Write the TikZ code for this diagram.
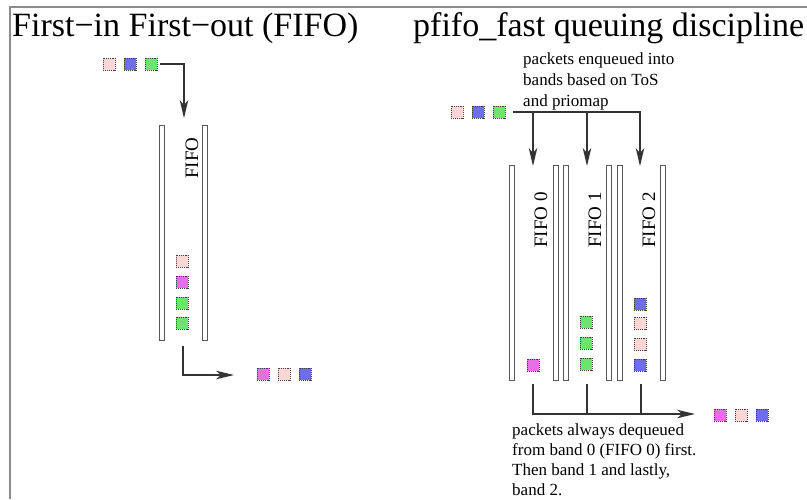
\documentclass[tikz,border=0pt]{standalone}
\usepackage{fontspec}
\setmainfont{Liberation Serif}
\usetikzlibrary{arrows.meta}
\definecolor{pinkp}{RGB}{255,214,214}
\definecolor{bluep}{RGB}{110,110,235}
\definecolor{greenp}{RGB}{110,228,110}
\definecolor{magp}{RGB}{232,110,232}
\definecolor{framec}{RGB}{140,140,140}
\tikzset{
  pkt/.style={draw=black!75, densely dotted, line width=0.9pt, minimum size=12pt, inner sep=0pt},
  wall/.style={draw=black!65, fill=white, line width=0.9pt, minimum width=5pt, inner sep=0pt},
  arr/.style={draw=black!80, line width=1.2pt, -{Stealth[length=18pt,width=8.5pt,inset=5pt]}},
  conn/.style={draw=black!80, line width=1.2pt},
  title/.style={font=\fontsize{34}{40}\selectfont, inner sep=0pt, anchor=base west},
  lbl/.style={font=\fontsize{19}{22}\selectfont, inner sep=0pt, rotate=90},
  note/.style={font=\fontsize{17}{21.3}\selectfont, inner sep=0pt, align=left, anchor=north west},
  notetight/.style={note, font=\fontsize{17}{20.2}\selectfont},
}
\begin{document}
\begin{tikzpicture}[x=1pt,y=-1pt]
\useasboundingbox (0,0) rectangle (807,499);
\fill[white] (0,0) rectangle (807,499);
\draw[framec, line width=1.6pt] (10,499) -- (10,7) -- (807,7);
% titles
\node[title] (t1) at (12,36) {First−in First−out (FIFO)};
\node[title] (t2) at (413,36) {pfifo\_fast queuing discipline};
% ---------- left FIFO ----------
\node[wall, minimum height=215pt] (lw1) at (161.5,232.5) {};
\node[wall, minimum height=215pt] (lw2) at (205,232.5) {};
\node[lbl] (lfifo) at (192,158) {FIFO};
\node[pkt, fill=pinkp] (ls1) at (109,64) {};
\node[pkt, fill=bluep] (ls2) at (130,64) {};
\node[pkt, fill=greenp] (ls3) at (151,64) {};
\coordinate (lin) at (184,118);
\draw[arr, shorten <=3pt] (ls3.east) -| (lin);
\node[pkt, fill=pinkp] (lq1) at (182,261) {};
\node[pkt, fill=magp] (lq2) at (182,282) {};
\node[pkt, fill=greenp] (lq3) at (182,303) {};
\node[pkt, fill=greenp] (lq4) at (182,323) {};
\coordinate (lout0) at (183,346);
\coordinate (lout1) at (234,375);
\draw[arr] (lout0) |- (lout1);
\node[pkt, fill=magp] (lo1) at (263,374) {};
\node[pkt, fill=pinkp] (lo2) at (284,374) {};
\node[pkt, fill=bluep] (lo3) at (305,374) {};
% ---------- right pfifo_fast ----------
\node[note] (enq) at (523,52) {packets enqueued into\\bands based on ToS\\and priomap};
\node[pkt, fill=pinkp] (rs1) at (457,112) {};
\node[pkt, fill=bluep] (rs2) at (478,112) {};
\node[pkt, fill=greenp] (rs3) at (499,112) {};
\coordinate (d0) at (533,166);
\coordinate (d1) at (587,166);
\coordinate (d2) at (640,166);
\draw[arr, shorten <=8pt] (rs3.east) -| (d2);
\draw[arr] (d0 |- rs3.east) -- (d0);
\draw[arr] (d1 |- rs3.east) -- (d1);
\foreach \n/\x in {a/512,b/555.5,c/565.5,d/609,e/619.5,f/663}{
  \node[wall, minimum height=215pt] (rw\n) at (\x,272.5) {};
}
\node[lbl] (f0) at (541,220) {FIFO 0};
\node[lbl] (f1) at (595,220) {FIFO 1};
\node[lbl] (f2) at (649,220) {FIFO 2};
\node[pkt, fill=magp] (q01) at (533,365) {};
\node[pkt, fill=greenp] (q11) at (586,322) {};
\node[pkt, fill=greenp] (q12) at (586,343) {};
\node[pkt, fill=greenp] (q13) at (586,364) {};
\node[pkt, fill=bluep] (q21) at (640,304) {};
\node[pkt, fill=pinkp] (q22) at (640,323) {};
\node[pkt, fill=pinkp] (q23) at (640,344) {};
\node[pkt, fill=bluep] (q24) at (640,365) {};
\coordinate (e0) at (533,384);
\coordinate (e1) at (587,384);
\coordinate (e2) at (641,384);
\coordinate (eo) at (695,414);
\draw[arr] (e0) |- (eo);
\draw[conn] (e1) -- (e1 |- eo);
\draw[conn] (e2) -- (e2 |- eo);
\node[pkt, fill=magp] (ro1) at (720,415) {};
\node[pkt, fill=pinkp] (ro2) at (741,415) {};
\node[pkt, fill=bluep] (ro3) at (762,415) {};
\node[notetight] (deq) at (512,423) {packets always dequeued\\from band 0 (FIFO 0) first.\\Then band 1 and lastly,\\band 2.};
\end{tikzpicture}
\end{document}
